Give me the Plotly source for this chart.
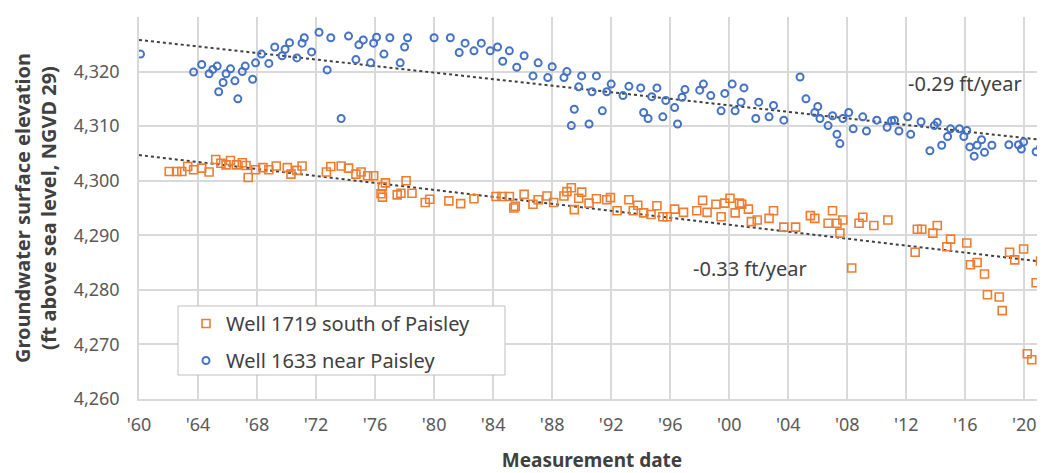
import plotly.graph_objects as go

# ---- Data ----
well1633_year = [1960.1, 1963.7, 1964.25, 1964.75, 1965.0, 1965.3, 1965.4, 1965.7, 1965.9, 1966.2,
                 1966.5, 1966.7, 1967.0, 1967.2, 1967.7, 1967.9, 1968.3, 1968.8, 1969.2, 1969.7,
                 1969.9, 1970.2, 1970.7, 1971.05, 1971.2, 1971.7, 1972.2, 1972.75, 1973.0, 1973.7,
                 1974.2, 1974.7, 1974.9, 1975.2, 1975.7, 1975.9, 1976.1, 1976.6, 1977.0, 1977.7,
                 1978.0, 1978.2, 1980.0, 1981.1, 1981.7, 1982.1, 1982.7, 1983.2, 1983.8, 1984.3,
                 1984.65, 1985.1, 1985.6, 1986.1, 1986.7, 1987.05, 1987.7, 1988.0, 1988.8, 1989.0,
                 1989.3, 1989.5, 1989.8, 1990.0, 1990.5, 1990.7, 1991.0, 1991.4, 1991.7, 1992.0,
                 1992.8, 1993.2, 1994.0, 1994.2, 1994.5, 1994.75, 1995.1, 1995.5, 1995.7, 1996.3,
                 1996.5, 1996.8, 1997.0, 1998.0, 1998.25, 1998.75, 1999.45, 1999.7, 2000.2, 2000.4,
                 2000.8, 2001.0, 2001.8, 2002.0, 2002.7, 2003.0, 2003.7, 2004.8, 2005.2, 2005.8,
                 2006.0, 2006.15, 2006.7, 2007.0, 2007.3, 2007.5, 2007.7, 2008.1, 2008.4, 2009.05,
                 2009.3, 2010.0, 2010.7, 2011.0, 2011.2, 2011.5, 2012.1, 2012.3, 2013.0, 2013.6,
                 2013.9, 2014.1, 2014.4, 2014.8, 2015.0, 2015.6, 2015.9, 2016.1, 2016.3, 2016.6,
                 2016.8, 2017.1, 2017.3, 2017.8, 2018.95, 2019.6, 2019.8, 2019.95, 2020.8, 2021.1]
well1633_elev = [4323.2, 4319.9, 4321.3, 4319.6, 4320.4, 4321.0, 4316.3, 4318.0, 4319.6, 4320.5,
                 4318.3, 4315.0, 4320.0, 4321.0, 4318.6, 4321.6, 4323.2, 4321.5, 4324.5, 4322.9,
                 4324.1, 4325.3, 4322.5, 4325.2, 4326.2, 4323.6, 4327.2, 4320.3, 4326.2, 4311.4,
                 4326.5, 4322.2, 4324.9, 4325.8, 4321.6, 4325.2, 4326.3, 4323.2, 4326.2, 4321.6,
                 4324.5, 4326.2, 4326.2, 4326.2, 4323.5, 4325.2, 4323.8, 4325.2, 4323.8, 4324.5,
                 4321.9, 4323.8, 4320.8, 4322.9, 4319.2, 4321.6, 4318.9, 4320.9, 4318.9, 4320.0,
                 4310.1, 4313.1, 4317.2, 4319.2, 4310.4, 4316.3, 4319.2, 4312.8, 4316.3, 4317.7,
                 4315.6, 4317.3, 4317.0, 4312.5, 4311.4, 4315.4, 4317.0, 4311.7, 4314.7, 4313.4,
                 4310.4, 4315.3, 4316.7, 4316.6, 4317.7, 4315.6, 4312.8, 4316.0, 4317.7, 4312.8,
                 4314.4, 4317.0, 4311.4, 4314.4, 4311.7, 4313.8, 4311.1, 4319.0, 4315.0, 4312.5,
                 4313.6, 4311.4, 4310.1, 4311.9, 4308.5, 4306.8, 4311.4, 4312.5, 4309.5, 4311.7,
                 4309.1, 4311.1, 4309.8, 4311.0, 4311.1, 4309.1, 4311.7, 4308.5, 4310.8, 4305.5,
                 4310.1, 4310.7, 4306.5, 4308.1, 4309.5, 4309.5, 4308.1, 4309.2, 4306.2, 4304.5,
                 4306.5, 4307.5, 4305.2, 4306.5, 4306.6, 4306.6, 4305.8, 4307.1, 4305.3, 4306.1]

well1719_year = [1962.05, 1962.55, 1962.9, 1963.3, 1963.7, 1964.25, 1964.75, 1965.2, 1965.55, 1965.9,
                 1966.2, 1966.6, 1967.0, 1967.25, 1967.4, 1967.9, 1968.4, 1968.8, 1969.3, 1970.05,
                 1970.3, 1970.7, 1971.05, 1972.7, 1973.0, 1973.7, 1974.2, 1974.7, 1975.05, 1975.5,
                 1975.9, 1976.4, 1976.5, 1976.5, 1976.7, 1977.5, 1977.75, 1978.1, 1978.5, 1979.4,
                 1979.7, 1981.0, 1981.8, 1982.7, 1984.2, 1984.6, 1985.1, 1985.4, 1985.5, 1986.1,
                 1986.7, 1987.05, 1987.65, 1988.1, 1988.8, 1989.0, 1989.3, 1989.5, 1989.8, 1990.0,
                 1990.5, 1991.0, 1991.7, 1991.95, 1992.4, 1993.2, 1993.5, 1993.8, 1994.2, 1994.7,
                 1995.1, 1995.5, 1995.8, 1996.3, 1996.9, 1997.8, 1998.2, 1998.5, 1999.1, 1999.45,
                 1999.7, 2000.05, 2000.4, 2000.7, 2000.85, 2001.3, 2001.5, 2001.9, 2002.7, 2003.0,
                 2003.7, 2004.5, 2005.5, 2005.8, 2006.7, 2007.0, 2007.3, 2007.5, 2007.7, 2008.3,
                 2008.8, 2009.05, 2009.8, 2010.75, 2012.6, 2012.75, 2013.05, 2013.8, 2014.1, 2014.75,
                 2015.0, 2016.1, 2016.35, 2016.8, 2017.3, 2017.5, 2018.3, 2018.5, 2019.0, 2019.35,
                 2019.95, 2020.2, 2020.5, 2020.8, 2021.1]
well1719_elev = [4301.7, 4301.7, 4301.7, 4302.6, 4302.0, 4302.3, 4301.6, 4303.9, 4303.2, 4302.9,
                 4303.7, 4302.9, 4303.3, 4302.8, 4300.6, 4302.0, 4302.4, 4302.0, 4302.7, 4302.4,
                 4301.2, 4301.9, 4302.7, 4301.6, 4302.6, 4302.7, 4302.3, 4301.2, 4301.6, 4300.9,
                 4300.9, 4297.6, 4298.9, 4297.0, 4299.6, 4297.4, 4297.7, 4300.0, 4297.7, 4296.0,
                 4296.6, 4296.3, 4295.8, 4296.7, 4297.1, 4297.1, 4297.1, 4295.0, 4295.3, 4297.5,
                 4295.7, 4296.5, 4297.2, 4296.0, 4297.2, 4298.0, 4298.7, 4294.7, 4296.8, 4297.9,
                 4295.9, 4296.7, 4296.5, 4296.9, 4294.5, 4296.5, 4294.5, 4295.5, 4294.1, 4293.8,
                 4295.4, 4293.4, 4293.4, 4294.8, 4294.2, 4294.5, 4296.4, 4294.2, 4295.7, 4293.4,
                 4295.9, 4296.8, 4294.1, 4295.9, 4295.7, 4294.8, 4292.5, 4292.8, 4293.1, 4294.5,
                 4291.5, 4291.5, 4293.6, 4293.1, 4292.2, 4294.5, 4292.2, 4290.4, 4292.8, 4284.0,
                 4292.2, 4293.3, 4291.8, 4292.8, 4286.9, 4291.1, 4291.1, 4290.4, 4291.8, 4287.9,
                 4289.3, 4288.6, 4284.6, 4285.0, 4282.9, 4279.1, 4278.7, 4276.2, 4286.9, 4285.5,
                 4287.5, 4268.3, 4267.2, 4281.3, 4285.3]

trend1633_year = [1960.0, 2021.1]
trend1633_elev = [4325.8, 4307.5]
trend1719_year = [1960.0, 2021.1]
trend1719_elev = [4304.7, 4285.2]

x_tick_vals = [1960, 1964, 1968, 1972, 1976, 1980, 1984, 1988, 1992, 1996, 2000, 2004, 2008, 2012, 2016, 2020]
x_tick_text = ["'60", "'64", "'68", "'72", "'76", "'80", "'84", "'88", "'92", "'96", "'00", "'04", "'08", "'12", "'16", "'20"]
y_tick_vals = [4260, 4270, 4280, 4290, 4300, 4310, 4320, 4330]
y_tick_text = ["4,260", "4,270", "4,280", "4,290", "4,300", "4,310", "4,320", "4,330"]

FONT = "Noto Sans"
ORANGE = "#ED7D31"
BLUE = "#4472C4"

# the page adds an 8px body margin; size the figure so it fits the window
W, H = 1037, 465
L, R, T, B = 131, 0, 9, 74
PW = W - L - R
PH = H - T - B

fig = go.Figure()

fig.add_trace(go.Scatter(x=trend1633_year, y=trend1633_elev, mode="lines",
                         line=dict(color="#404040", width=2, dash="dot"),
                         showlegend=False, hoverinfo="skip"))
fig.add_trace(go.Scatter(x=trend1719_year, y=trend1719_elev, mode="lines",
                         line=dict(color="#404040", width=2, dash="dot"),
                         showlegend=False, hoverinfo="skip"))

fig.add_trace(go.Scatter(x=well1719_year, y=well1719_elev, mode="markers",
                         name="Well 1719 south of Paisley", legendgroup="a",
                         marker=dict(symbol="square-open", size=8, color=ORANGE,
                                     line=dict(width=1.6, color=ORANGE))))
fig.add_trace(go.Scatter(x=well1633_year, y=well1633_elev, mode="markers",
                         name="Well 1633 near Paisley", legendgroup="b",
                         marker=dict(symbol="circle-open", size=7, color=BLUE,
                                     line=dict(width=2, color=BLUE))))

fig.add_annotation(x=2016.0, y=4317.9, xref="x", yref="y", text="-0.29 ft/year",
                   showarrow=False, font=dict(family=FONT, size=20, color="#404040"))
fig.add_annotation(x=2001.4, y=4284.0, xref="x", yref="y", text="-0.33 ft/year",
                   showarrow=False, font=dict(family=FONT, size=20, color="#404040"))

# legend box
fig.add_shape(type="rect", xref="paper", yref="paper",
              x0=39/PW, x1=366/PW, y0=24/PH, y1=93/PH,
              line=dict(color="#BFBFBF", width=1), fillcolor="white", layer="above")

fig.update_layout(
    width=W, height=H,
    margin=dict(l=L, r=R, t=T, b=B),
    paper_bgcolor="white", plot_bgcolor="white",
    font=dict(family=FONT, color="#595959"),
    legend=dict(x=47/PW, y=95/PH, xanchor="left", yanchor="top",
                bgcolor="rgba(0,0,0,0)", borderwidth=0,
                font=dict(family=FONT, size=20, color="#404040"),
                tracegroupgap=8, traceorder="grouped"),
    xaxis=dict(range=[1960, 2021.4], tickvals=x_tick_vals, ticktext=x_tick_text,
               showgrid=True, gridcolor="#D9D9D9", gridwidth=1.5,
               zeroline=False, showline=True, linecolor="#D9D9D9", linewidth=1.5,
               ticks="", ticklabelstandoff=9,
               tickfont=dict(family=FONT, size=18, color="#595959"),
               title=dict(text="<b>Measurement date</b>", standoff=19,
                          font=dict(family=FONT, size=19, color="#404040"))),
    yaxis=dict(range=[4260, 4330], tickvals=y_tick_vals, ticktext=y_tick_text,
               showgrid=True, gridcolor="#D9D9D9", gridwidth=1.5,
               zeroline=False, showline=True, linecolor="#D9D9D9", linewidth=1.5,
               ticks="", ticklabelstandoff=14,
               tickfont=dict(family=FONT, size=18, color="#595959"),
               title=dict(text="<b>Groundwater surface elevation<br>(ft above sea level, NGVD 29)</b>",
                          standoff=12, font=dict(family=FONT, size=20, color="#404040"))),
)

fig.write_html("out.html")
